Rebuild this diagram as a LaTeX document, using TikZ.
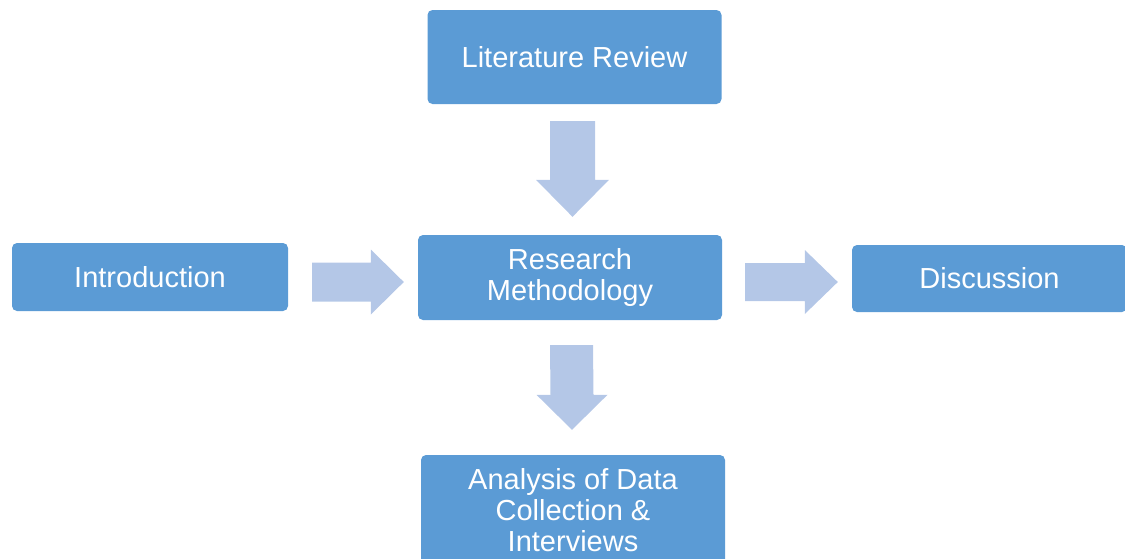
\documentclass[tikz,border=0pt]{standalone}
\usepackage{fontspec}
\setmainfont{Liberation Sans}
\usetikzlibrary{calc}
\definecolor{boxblue}{HTML}{5B9BD5}
\definecolor{arrowblue}{HTML}{B4C7E7}
\tikzset{
  blockbox/.style={fill=boxblue, draw=none, rounded corners=5pt, inner sep=0pt,
    text=white, align=center, font=\fontsize{29}{31}\selectfont},
  blockarrow/.style={fill=arrowblue, draw=none}
}
\newcommand{\rarrow}[6]{% start, tip, half shaft, half head, head length
  \fill[blockarrow] ($(#1)+(0,-#3)$) -- ($(#2)+(-#5,-#3)$) -- ($(#2)+(-#5,-#4)$) -- (#2)
    -- ($(#2)+(-#5,#4)$) -- ($(#2)+(-#5,#3)$) -- ($(#1)+(0,#3)$) -- cycle;}
\newcommand{\darrow}[6]{%
  \fill[blockarrow] ($(#1)+(-#3,0)$) -- ($(#2)+(-#3,-#5)$) -- ($(#2)+(-#4,-#5)$) -- (#2)
    -- ($(#2)+(#4,-#5)$) -- ($(#2)+(#3,-#5)$) -- ($(#1)+(#3,0)$) -- cycle;}
\begin{document}
\begin{tikzpicture}[x=1pt,y=-1pt]
\useasboundingbox (0,0) rectangle (1125,558);
\clip (0,0) rectangle (1125,558);
\node[blockbox, minimum width=294pt, minimum height=94pt] (lr) at (574.5,57) {Literature Review};
\node[blockbox, minimum width=276pt, minimum height=68pt] (intro) at (150,277) {Introduction};
\node[blockbox, minimum width=304pt, minimum height=85pt] (rm) at (570,277.5) {Research\\Methodology};
\node[blockbox, minimum width=275pt, minimum height=67pt] (disc) at (989.5,278.5) {Discussion};
\node[blockbox, minimum width=304pt, minimum height=110pt] (ana) at (573,510) {Analysis of Data\\Collection \&\\Interviews};
% connector end points
\coordinate (d1s) at ($(lr.south)+(-2,17)$);
\coordinate (d1t) at ($(rm.north)+(2.5,-18)$);
\coordinate (r1s) at ($(intro.east)+(24,5)$);
\coordinate (r1t) at ($(rm.west)+(-14,4.5)$);
\coordinate (r2s) at ($(rm.east)+(23,4.5)$);
\coordinate (r2t) at ($(disc.west)+(-14,3.5)$);
\coordinate (d2s) at ($(rm.south)+(1.5,25)$);
\coordinate (d2t) at ($(ana.north)+(-1,-25)$);
\darrow{d1s}{d1t}{22.5}{36.5}{37}{}
\rarrow{r1s}{r1t}{19.5}{32.5}{33}{}
\rarrow{r2s}{r2t}{19}{32}{33}{}
\darrow{d2s}{d2t}{21.5}{35.5}{35}{}
\end{tikzpicture}
\end{document}
